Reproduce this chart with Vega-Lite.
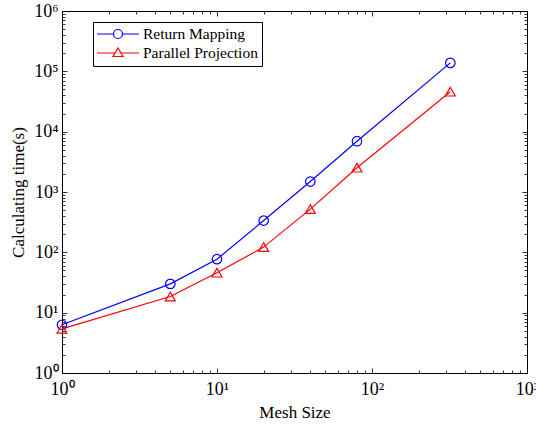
{
  "$schema": "https://vega.github.io/schema/vega-lite/v6.json",
  "width": 465,
  "height": 362,
  "autosize": "none",
  "padding": {"left": 62, "top": 11, "right": 9, "bottom": 58},
  "background": "white",
  "data": {
    "values": [
      {"mesh": 1, "time": 6.3, "method": "Return Mapping"},
      {"mesh": 5, "time": 30, "method": "Return Mapping"},
      {"mesh": 10, "time": 77, "method": "Return Mapping"},
      {"mesh": 20, "time": 336, "method": "Return Mapping"},
      {"mesh": 40, "time": 1490, "method": "Return Mapping"},
      {"mesh": 80, "time": 6950, "method": "Return Mapping"},
      {"mesh": 320, "time": 138000, "method": "Return Mapping"},
      {"mesh": 1, "time": 5.4, "method": "Parallel Projection"},
      {"mesh": 5, "time": 18.5, "method": "Parallel Projection"},
      {"mesh": 10, "time": 46, "method": "Parallel Projection"},
      {"mesh": 20, "time": 122, "method": "Parallel Projection"},
      {"mesh": 40, "time": 520, "method": "Parallel Projection"},
      {"mesh": 80, "time": 2530, "method": "Parallel Projection"},
      {"mesh": 320, "time": 46000, "method": "Parallel Projection"}
    ]
  },
  "config": {
    "view": {"stroke": null},
    "font": "Liberation Serif",
    "axis": {
      "grid": false,
      "domainColor": "black",
      "domainWidth": 1,
      "tickColor": "black",
      "tickWidth": 0.8,
      "labelFont": "Liberation Serif",
      "labelFontSize": 18,
      "labelColor": "black",
      "titleFont": "Liberation Serif",
      "titleFontSize": 17,
      "titleFontWeight": "normal",
      "titleColor": "black",
      "labelOverlap": false,
      "labelFlush": false,
      "labelBound": false
    },
    "legend": {
      "labelFont": "Liberation Serif",
      "labelFontSize": 15.5,
      "labelColor": "black"
    }
  },
  "layer": [
    {
      "mark": {"type": "line", "strokeWidth": 1.2},
      "encoding": {
        "x": {
          "field": "mesh",
          "type": "quantitative",
          "scale": {"type": "log", "domain": [1, 1000], "nice": false},
          "axis": {
            "orient": "bottom",
            "title": "Mesh Size",
            "titlePadding": 4,
            "values": [1,2,3,4,5,6,7,8,9,10,20,30,40,50,60,70,80,90,100,200,300,400,500,600,700,800,900,1000],
            "tickSize": {"condition": {"test": "indexof([1,10,100,1000], datum.value) >= 0", "value": -5}, "value": -3},
            "labelPadding": 12,
            "labelExpr": "indexof([1,10,100,1000], datum.value) >= 0 ? '10' + ['⁰','¹','²','³','⁴','⁵','⁶'][round(log(datum.value)/LN10)] : ''"
          }
        },
        "y": {
          "field": "time",
          "type": "quantitative",
          "scale": {"type": "log", "domain": [1, 1000000], "nice": false},
          "axis": {
            "orient": "left",
            "title": "Calculating time(s)",
            "titlePadding": 6,
            "values": [1,2,3,4,5,6,7,8,9,10,20,30,40,50,60,70,80,90,100,200,300,400,500,600,700,800,900,1000,2000,3000,4000,5000,6000,7000,8000,9000,10000,20000,30000,40000,50000,60000,70000,80000,90000,100000,200000,300000,400000,500000,600000,700000,800000,900000,1000000],
            "tickSize": {"condition": {"test": "indexof([1,10,100,1000,10000,100000,1000000], datum.value) >= 0", "value": -5}, "value": -3},
            "labelPadding": 9,
            "labelExpr": "indexof([1,10,100,1000,10000,100000,1000000], datum.value) >= 0 ? '10' + ['⁰','¹','²','³','⁴','⁵','⁶'][round(log(datum.value)/LN10)] : ''"
          }
        },
        "color": {
          "field": "method",
          "type": "nominal",
          "scale": {"domain": ["Return Mapping", "Parallel Projection"], "range": ["#0000ff", "#ff0000"]},
          "legend": {
            "title": null,
            "orient": "none",
            "legendX": 31,
            "legendY": 11,
            "direction": "vertical",
            "strokeColor": "black",
            "fillColor": "white",
            "padding": 4,
            "symbolSize": 196,
            "symbolOffset": 13,
            "symbolStrokeWidth": 1.2,
            "symbolFillColor": "transparent",
            "symbolOpacity": 1,
            "labelOffset": 17,
            "rowPadding": 2
          }
        }
      }
    },
    {
      "transform": [{"filter": "datum.method === 'Return Mapping'"}],
      "mark": {"type": "point", "shape": "circle", "filled": false, "strokeWidth": 1.2, "size": 90, "opacity": 1},
      "encoding": {
        "x": {
          "field": "mesh",
          "type": "quantitative",
          "scale": {"type": "log", "domain": [1, 1000], "nice": false},
          "axis": {
            "orient": "top",
            "title": null,
            "labels": false,
            "values": [1,2,3,4,5,6,7,8,9,10,20,30,40,50,60,70,80,90,100,200,300,400,500,600,700,800,900,1000],
            "tickSize": {"condition": {"test": "indexof([1,10,100,1000], datum.value) >= 0", "value": -5}, "value": -3}
          }
        },
        "y": {
          "field": "time",
          "type": "quantitative",
          "scale": {"type": "log", "domain": [1, 1000000], "nice": false},
          "axis": {
            "orient": "right",
            "title": null,
            "labels": false,
            "values": [1,2,3,4,5,6,7,8,9,10,20,30,40,50,60,70,80,90,100,200,300,400,500,600,700,800,900,1000,2000,3000,4000,5000,6000,7000,8000,9000,10000,20000,30000,40000,50000,60000,70000,80000,90000,100000,200000,300000,400000,500000,600000,700000,800000,900000,1000000],
            "tickSize": {"condition": {"test": "indexof([1,10,100,1000,10000,100000,1000000], datum.value) >= 0", "value": -5}, "value": -3}
          }
        },
        "color": {"field": "method", "type": "nominal", "legend": null}
      }
    },
    {
      "transform": [{"filter": "datum.method === 'Parallel Projection'"}],
      "mark": {"type": "point", "shape": "triangle-up", "filled": false, "strokeWidth": 1.2, "size": 100, "opacity": 1},
      "encoding": {
        "x": {"field": "mesh", "type": "quantitative", "scale": {"type": "log", "domain": [1, 1000], "nice": false}, "axis": null},
        "y": {"field": "time", "type": "quantitative", "scale": {"type": "log", "domain": [1, 1000000], "nice": false}, "axis": null},
        "color": {"field": "method", "type": "nominal", "legend": null}
      }
    },
    {
      "transform": [{"filter": "false"}],
      "mark": {"type": "point", "filled": false, "strokeWidth": 1.2, "opacity": 1},
      "encoding": {
        "x": {"field": "mesh", "type": "quantitative", "scale": {"type": "log", "domain": [1, 1000], "nice": false}, "axis": null},
        "y": {"field": "time", "type": "quantitative", "scale": {"type": "log", "domain": [1, 1000000], "nice": false}, "axis": null},
        "color": {"field": "method", "type": "nominal"},
        "shape": {
          "field": "method",
          "type": "nominal",
          "scale": {
            "domain": ["Return Mapping", "Parallel Projection"],
            "range": [
              "M-3,0H-0.64M0.64,0H3M-0.64,0A0.64,0.64 0 1,0 0.64,0A0.64,0.64 0 1,0 -0.64,0",
              "M-3,0H-0.42M0.42,0H3M0,-0.71L0.71,0.5L-0.71,0.5Z"
            ]
          }
        }
      }
    }
  ],
  "resolve": {"axis": {"x": "independent", "y": "independent"}}
}
